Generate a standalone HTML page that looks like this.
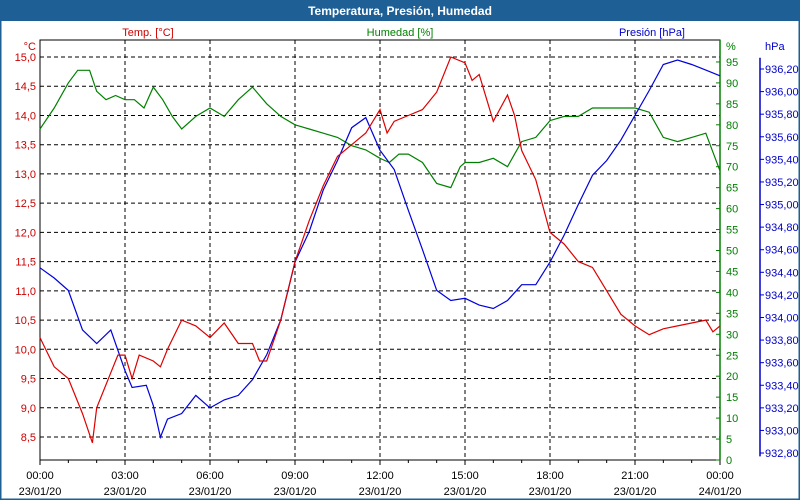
<!DOCTYPE html>
<html><head><meta charset="utf-8"><style>
body{margin:0;background:#fff;}
svg{display:block;font-family:"Liberation Sans",sans-serif;}
</style></head><body>
<svg id="chart" width="800" height="500">
<rect x="0" y="0" width="800" height="500" fill="#fff"/>
<rect x="0" y="0" width="800" height="21" fill="#1e5f96"/>
<text x="400" y="15" text-anchor="middle" font-size="12" font-weight="bold" fill="#fff">Temperatura, Presión, Humedad</text>
<rect x="0.5" y="0.5" width="799" height="499" fill="none" stroke="#1e5f96" stroke-width="2"/>
<text x="148" y="36" text-anchor="middle" font-size="11" fill="#cc0000">Temp. [°C]</text>
<text x="400" y="36" text-anchor="middle" font-size="11" fill="#008000">Humedad [%]</text>
<text x="685" y="36" text-anchor="end" font-size="11" fill="#0000cc">Presión [hPa]</text>
<text x="36" y="50" text-anchor="end" font-size="11" fill="#cc0000">°C</text>
<text x="726" y="50" font-size="11" fill="#008000">%</text>
<text x="765" y="50" font-size="11" fill="#0000cc">hPa</text>
<g id="grid"></g><g id="axes"></g><g id="series"></g>
</svg>
<script>
const timeTicks=["00:00","03:00","06:00","09:00","12:00","15:00","18:00","21:00","00:00"];
const dateTicks=["23/01/20","23/01/20","23/01/20","23/01/20","23/01/20","23/01/20","23/01/20","23/01/20","24/01/20"];
const tempTicks=[8.5,9,9.5,10,10.5,11,11.5,12,12.5,13,13.5,14,14.5,15];
const humTicks=[0,5,10,15,20,25,30,35,40,45,50,55,60,65,70,75,80,85,90,95];
const presTicks=[932.8,933.0,933.2,933.4,933.6,933.8,934.0,934.2,934.4,934.6,934.8,935.0,935.2,935.4,935.6,935.8,936.0,936.2];
const tempHours=[0,0.5,1,1.5,1.85,2,2.5,2.75,3,3.25,3.5,4,4.25,4.5,5,5.5,6,6.5,7,7.5,7.75,8,8.5,9,9.5,10,10.5,11,11.5,12,12.25,12.5,13,13.5,14,14.5,15,15.25,15.5,16,16.5,16.75,17,17.5,18,18.5,19,19.5,20,20.5,21,21.5,22,22.5,23,23.5,23.75,24];
const tempValues=[10.2,9.7,9.5,8.9,8.4,9.0,9.6,9.9,9.9,9.5,9.9,9.8,9.7,10.0,10.5,10.4,10.2,10.45,10.1,10.1,9.8,9.8,10.5,11.5,12.2,12.8,13.3,13.5,13.7,14.1,13.7,13.9,14.0,14.1,14.4,15.0,14.9,14.6,14.7,13.9,14.35,14.0,13.4,12.9,12.0,11.8,11.5,11.4,11.0,10.6,10.4,10.25,10.35,10.4,10.45,10.5,10.3,10.4];
const humHours=[0,0.5,1,1.33,1.75,2,2.33,2.67,3,3.33,3.67,4,4.33,4.67,5,5.5,6,6.5,7,7.5,8,8.5,9,9.5,10,10.5,11,11.5,12,12.33,12.67,13,13.5,14,14.5,14.83,15,15.5,16,16.5,16.75,17,17.5,18,18.5,19,19.5,20,20.5,21,21.5,22,22.5,23,23.5,24];
const humValues=[79,84,90,93,93,88,86,87,86,86,84,89,86,82,79,82,84,82,86,89,85,82,80,79,78,77,75,74,72,71,73,73,71,66,65,70,71,71,72,70,73,76,77,81,82,82,84,84,84,84,83,77,76,77,78,69];
const presHours=[0,0.5,1,1.5,2,2.5,3,3.25,3.75,4,4.25,4.5,5,5.5,6,6.5,7,7.5,8,8.5,9,9.5,10,10.5,11,11.5,12,12.5,13,13.5,14,14.5,15,15.5,16,16.5,17,17.5,18,18.5,19,19.5,20,20.5,21,21.5,22,22.5,23,23.5,24];
const presValues=[934.44,934.35,934.24,933.89,933.77,933.89,933.53,933.38,933.40,933.22,932.94,933.10,933.15,933.31,933.20,933.27,933.31,933.45,933.67,933.98,934.49,934.76,935.13,935.39,935.68,935.77,935.48,935.31,934.95,934.60,934.24,934.15,934.17,934.11,934.08,934.15,934.29,934.29,934.49,934.73,935.00,935.26,935.39,935.57,935.79,936.01,936.24,936.28,936.24,936.19,936.14];

const L=40,R=720,T=40,B=460;
const x=h=>L+(R-L)*h/24;
const yT=t=>57+(15-t)*58.46;
const yH=v=>460-v*4.19;
const yP=p=>69+(936.2-p)/0.2*22.59;
const NS="http://www.w3.org/2000/svg";
function mk(tag,attrs,parent,text){const e=document.createElementNS(NS,tag);for(const k in attrs)e.setAttribute(k,attrs[k]);if(text!==undefined)e.textContent=text;parent.appendChild(e);return e;}
const grid=document.getElementById('grid'),axes=document.getElementById('axes'),ser=document.getElementById('series');
const fmt=(v,d)=>v.toFixed(d).replace('.',',');
tempTicks.forEach(t=>{
  const g=mk('line',{x1:L,x2:R,y1:yT(t),y2:yT(t),stroke:'#000','stroke-dasharray':'4,3'},grid);
  
  
  const lb=mk('text',{x:36,y:yT(t)+4,'text-anchor':'end','font-size':11,fill:'#cc0000'},axes,fmt(t,1));
  
  
});
timeTicks.forEach((s,i)=>{
  const xx=x(i*3);
  if(i>0&&i<8){const g=mk('line',{x1:xx,x2:xx,y1:T,y2:B,stroke:'#000','stroke-dasharray':'4,3'},grid);
  
  }
  const a=mk('text',{x:xx,y:479,'text-anchor':'middle','font-size':11,fill:'#000'},axes,s);
  
  
  const b=mk('text',{x:xx,y:495,'text-anchor':'middle','font-size':11,fill:'#000'},axes,dateTicks[i]);
  
  
});
for(let h=0;h<=24;h++){const tk=mk('line',{x1:x(h),x2:x(h),y1:B,y2:B+(h%3?3:5),stroke:'#000'},axes);
  
  }
const box=mk('rect',{x:L,y:T,width:R-L,height:B-T,fill:'none',stroke:'#000'},axes);


const ha=mk('line',{x1:R,x2:R,y1:T,y2:B,stroke:'#008000','stroke-width':1.5},axes);


humTicks.forEach(v=>{
  mk('line',{x1:R-4,x2:R,y1:yH(v),y2:yH(v),stroke:'#008000'},axes);
  const lb=mk('text',{x:726,y:yH(v)+4,'font-size':11,fill:'#008000'},axes,String(v));
  
  
});
const pa=mk('line',{x1:760,x2:760,y1:yP(936.3),y2:yP(932.77),stroke:'#0000cc','stroke-width':1.5},axes);


presTicks.forEach(p=>{
  mk('line',{x1:760,x2:764,y1:yP(p),y2:yP(p),stroke:'#0000cc'},axes);
  const lb=mk('text',{x:765,y:yP(p)+4,'font-size':11,fill:'#0000cc'},axes,fmt(p,2));
  
  
});
function line(hs,vs,fy,color,name){
  const pts=hs.map((h,i)=>x(h).toFixed(1)+','+fy(vs[i]).toFixed(1)).join(' ');
  const e=mk('polyline',{points:pts,fill:'none',stroke:color,'stroke-width':1.2},ser);
  
  
}
line(humHours,humValues,yH,'#008000','humidity-line');
line(presHours,presValues,yP,'#0000dd','pressure-line');
line(tempHours,tempValues,yT,'#dd0000','temperature-line');
</script>
</body></html>
